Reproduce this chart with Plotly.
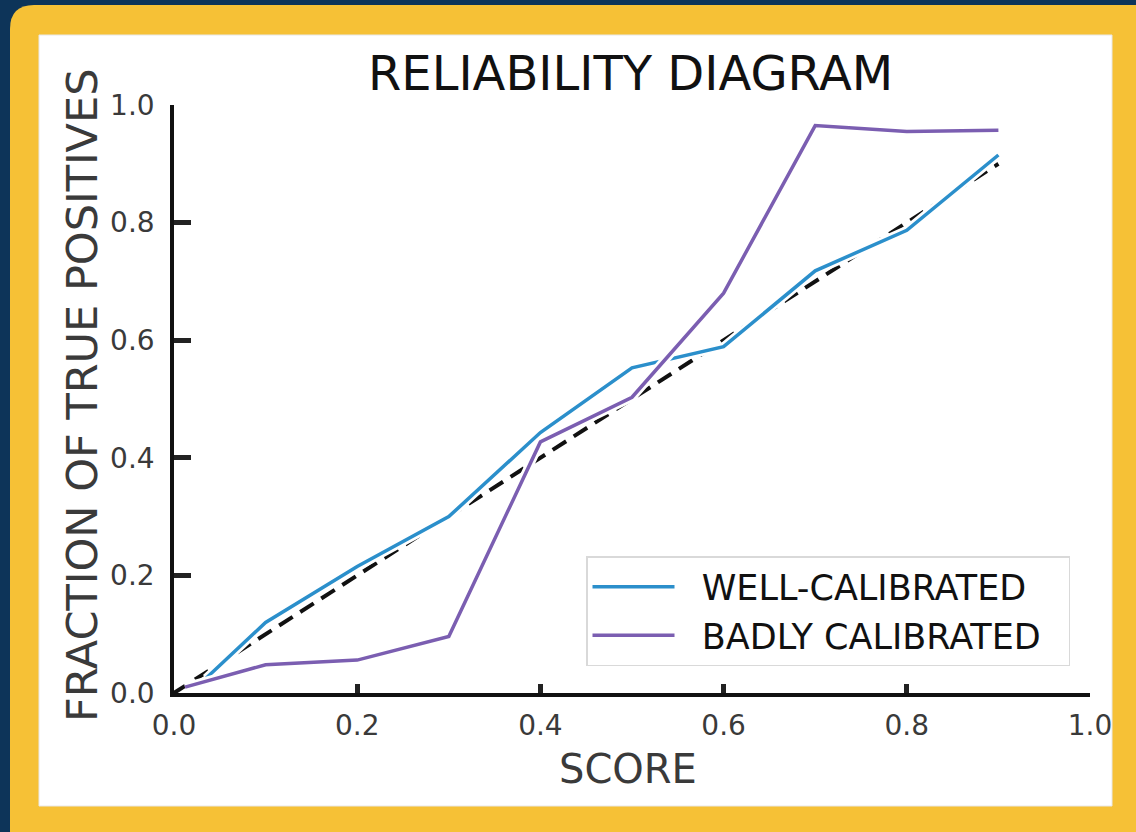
import plotly.graph_objects as go

# Canvas and plot-area geometry (pixels)
W, H = 1136, 832
L, R, T, B = 174, 46, 105, 139
PW, PH = W - L - R, H - T - B


def px(x):
    """Pixel column -> paper x."""
    return (x - L) / PW


def py(y):
    """Pixel row -> paper y."""
    return (H - B - y) / PH


# Calibration curves: mean predicted score per bin vs fraction of positives
score_well = [0.035, 0.10, 0.20, 0.30, 0.40, 0.50, 0.60, 0.70, 0.80, 0.90]
frac_well = [0.025, 0.12, 0.215, 0.30, 0.443, 0.553, 0.589, 0.718, 0.787, 0.915]

score_bad = [0.012, 0.10, 0.20, 0.30, 0.40, 0.50, 0.60, 0.70, 0.80, 0.90]
frac_bad = [0.010, 0.048, 0.056, 0.096, 0.427, 0.503, 0.680, 0.965, 0.955, 0.957]

# Perfect-calibration reference
diag_x = [0.0, 0.9]
diag_y = [0.0, 0.9]

tick_vals = [0.0, 0.2, 0.4, 0.6, 0.8, 1.0]
tick_text = ["0.0", "0.2", "0.4", "0.6", "0.8", "1.0"]

series_names = ["WELL-CALIBRATED", "BADLY CALIBRATED"]

NAVY = "#0d3459"
GOLD = "#f6c136"
BLUE = "#2b8fcb"
PURPLE = "#7b5eb1"
INK = "#111111"
GREY_INK = "#3a3a3a"
FONT = "DejaVu Sans"
NB = "\u00a0"  # non-breaking space used to pad legend labels


def halo(x, y):
    return go.Scatter(x=x, y=y, mode="lines", showlegend=False, hoverinfo="skip",
                      line=dict(color="white", width=9))


fig = go.Figure()
fig.add_trace(halo(diag_x, diag_y))
fig.add_trace(go.Scatter(x=diag_x, y=diag_y, mode="lines", showlegend=False,
                         line=dict(color=INK, width=4, dash="16px,9px")))
fig.add_trace(halo(score_well, frac_well))
fig.add_trace(go.Scatter(x=score_well, y=frac_well, mode="lines",
                         name=NB * 2 + series_names[0],
                         line=dict(color=BLUE, width=3.5)))
fig.add_trace(halo(score_bad, frac_bad))
fig.add_trace(go.Scatter(x=score_bad, y=frac_bad, mode="lines",
                         name=NB * 2 + series_names[1] + NB * 2,
                         line=dict(color=PURPLE, width=3.5)))

# Gold rounded frame and white card behind the chart
r = 24
gx0, gy0, gx1, gy1 = 10, 5, 1160, 860
frame_path = (f"M {px(gx0)},{py(gy0 + r)} Q {px(gx0)},{py(gy0)} {px(gx0 + r)},{py(gy0)} "
              f"L {px(gx1)},{py(gy0)} L {px(gx1)},{py(gy1)} L {px(gx0)},{py(gy1)} Z")

shapes = [
    dict(type="path", xref="paper", yref="paper", path=frame_path,
         fillcolor=GOLD, line=dict(width=0), layer="below"),
    dict(type="rect", xref="paper", yref="paper",
         x0=px(39), x1=px(1112), y0=py(806), y1=py(35),
         fillcolor="white", line=dict(color="#e8e8e8", width=1), layer="below"),
]

annotations = [
    dict(text="RELIABILITY DIAGRAM", xref="paper", yref="paper",
         x=px(630), y=py(73), xanchor="center", yanchor="middle", showarrow=False,
         font=dict(family=FONT, size=48, color=INK)),
    dict(text="SCORE", xref="paper", yref="paper",
         x=px(628), y=py(769), xanchor="center", yanchor="middle", showarrow=False,
         font=dict(family=FONT, size=40, color=GREY_INK)),
    dict(text="FRACTION OF TRUE POSITIVES", xref="paper", yref="paper",
         x=px(82), y=py(396), xanchor="center", yanchor="middle", showarrow=False,
         textangle=-90, font=dict(family=FONT, size=43, color=GREY_INK)),
]

axis_common = dict(
    range=[0, 1], tickmode="array", tickvals=tick_vals, ticktext=tick_text,
    showgrid=False, zeroline=False, showline=True, linecolor=INK, linewidth=3.5,
    ticks="inside", tickcolor="#222222", tickwidth=5,
    tickfont=dict(family=FONT, size=28, color=GREY_INK), fixedrange=True,
)

fig.update_layout(
    width=W, height=H,
    margin=dict(l=L, r=R, t=T, b=B, autoexpand=False),
    paper_bgcolor=NAVY, plot_bgcolor="white",
    xaxis=dict(**axis_common, ticklen=9, ticklabelstandoff=5),
    yaxis=dict(**axis_common, ticklen=17, ticklabelstandoff=10),
    shapes=shapes, annotations=annotations,
    legend=dict(x=px(586), y=py(556), xanchor="left", yanchor="top",
                bgcolor="white", bordercolor="#d9d9d9", borderwidth=1.5,
                font=dict(family=FONT, size=35, color=INK), itemwidth=82,
                tracegroupgap=0),
    hovermode=False,
)

fig.write_html("out.html")
